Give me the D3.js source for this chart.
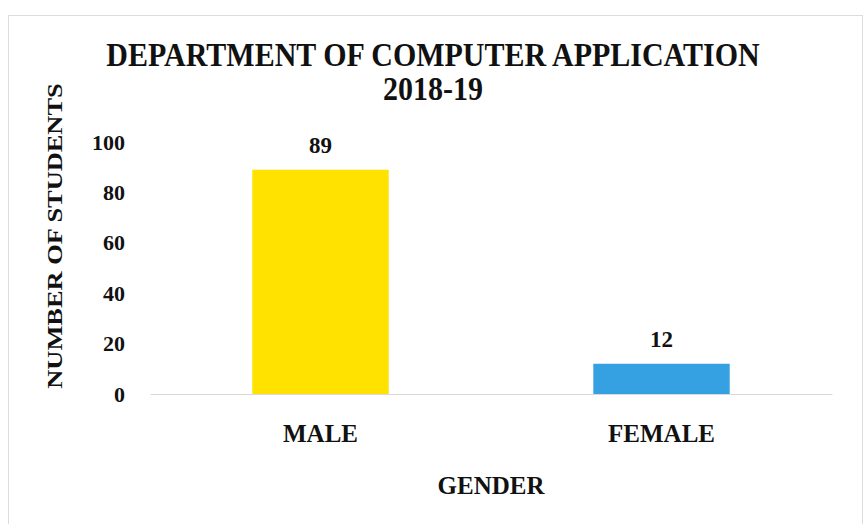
<!DOCTYPE html>
<html>
<head>
<meta charset="utf-8">
<script src="https://cdn.jsdelivr.net/npm/d3@7"></script>
<style>
  html, body { margin: 0; padding: 0; background: #ffffff; }
  svg { display: block; }
  text { font-family: "Liberation Serif", "Times New Roman", serif; font-weight: bold; fill: #111; }
</style>
</head>
<body>
<svg id="chart" width="867" height="524"></svg>
<script>
// ---- data ----
const categories = ["MALE", "FEMALE"];
const values = [89, 12];
const barColors = ["#FFE200", "#35A1E2"];
const yTicks = [0, 20, 40, 60, 80, 100];
const titleLines = ["DEPARTMENT OF COMPUTER APPLICATION", "2018-19"];
const xAxisTitle = "GENDER";
const yAxisTitle = "NUMBER OF STUDENTS";

// ---- layout ----
const W = 867, H = 524;
const plot = { left: 150, right: 832, top: 142, bottom: 394 };

const svg = d3.select("#chart");

// outer chart border
svg.append("rect")
  .attr("x", 8.5).attr("y", 15.5)
  .attr("width", 854).attr("height", 520)
  .attr("fill", "#ffffff")
  .attr("stroke", "#dcdcdc").attr("stroke-width", 1);

// scales
const x = d3.scaleBand()
  .domain(categories)
  .range([plot.left, plot.right])
  .paddingInner(0.6)
  .paddingOuter(0.3);

const y = d3.scaleLinear()
  .domain([0, 100])
  .range([plot.bottom, plot.top]);

// title
const tscale = 1.09;
titleLines.forEach((t, i) => {
  svg.append("text")
    .attr("transform", `translate(433, ${[66, 100][i]}) scale(1, ${tscale})`)
    .attr("text-anchor", "middle")
    .style("font-size", "30px")
    .text(t);
});

// y axis (labels only)
const yAxis = svg.append("g")
  .attr("transform", `translate(${plot.left},0)`)
  .call(d3.axisLeft(y).tickValues(yTicks).tickSize(0).tickPadding(25));
yAxis.select(".domain").remove();
yAxis.selectAll("text")
  .style("font-size", "22px")
  .style("font-family", '"Liberation Serif", "Times New Roman", serif')
  .style("font-weight", "bold")
  .attr("fill", "#111");

// bars
svg.append("g").selectAll("rect")
  .data(categories)
  .join("rect")
  .attr("x", d => x(d))
  .attr("width", x.bandwidth())
  .attr("y", (d, i) => y(values[i]))
  .attr("height", (d, i) => y(0) - y(values[i]))
  .attr("fill", (d, i) => barColors[i]);

// x axis
const xAxis = svg.append("g")
  .attr("transform", `translate(0,${plot.bottom})`)
  .call(d3.axisBottom(x).tickSize(0).tickPadding(30));
xAxis.select(".domain")
  .attr("stroke", "#d9d9d9").attr("stroke-width", 1);
xAxis.selectAll("text")
  .style("font-size", "25px")
  .style("font-family", '"Liberation Serif", "Times New Roman", serif')
  .style("font-weight", "bold")
  .attr("fill", "#111");

// value labels
svg.append("g").selectAll("text")
  .data(categories)
  .join("text")
  .attr("x", d => x(d) + x.bandwidth() / 2)
  .attr("y", (d, i) => y(values[i]) - 17)
  .attr("text-anchor", "middle")
  .style("font-size", "23px")
  .text((d, i) => values[i]);

// axis titles
svg.append("text")
  .attr("x", 491).attr("y", 494)
  .attr("text-anchor", "middle")
  .style("font-size", "25px")
  .text(xAxisTitle);

svg.append("text")
  .attr("transform", "translate(62, 236) rotate(-90) scale(1.2, 1)")
  .attr("text-anchor", "middle")
  .style("font-size", "22px")
  .text(yAxisTitle);
</script>
</body>
</html>
